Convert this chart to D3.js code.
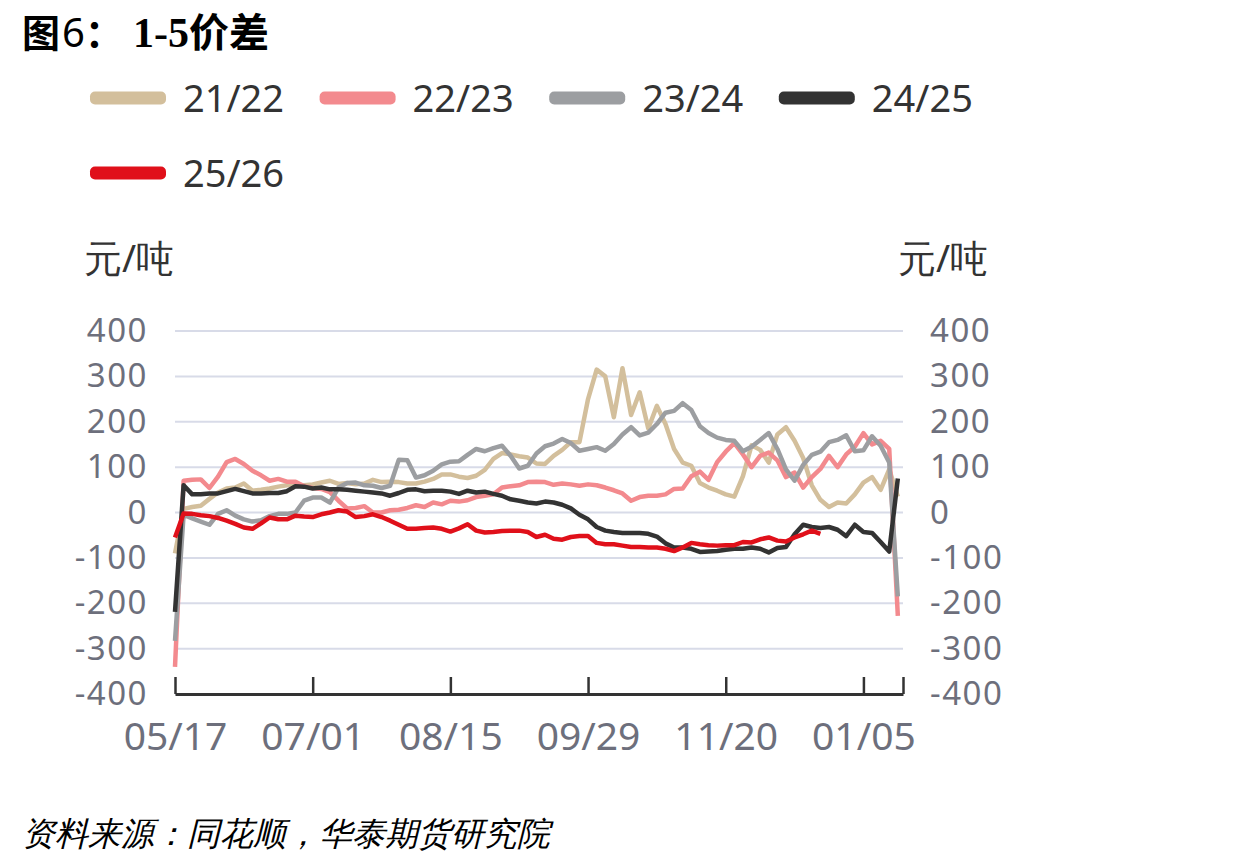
<!DOCTYPE html>
<html>
<head>
<meta charset="utf-8">
<script src="https://cdn.jsdelivr.net/npm/d3@7"></script>
<style>
  body { margin: 0; background: #fff; }
  text { font-family: "Noto Sans", "Open Sans", sans-serif; }
</style>
</head>
<body>
<svg id="chart" width="1240" height="866"></svg>
<script>
// x labels sit on trading-day index (every 2 days per point)
var tickIdx = [0, 16, 32, 48, 64, 80];
var tickLabels = ["05/17", "07/01", "08/15", "09/29", "11/20", "01/05"];
var yTicks = [-400, -300, -200, -100, 0, 100, 200, 300, 400];

var s2122 = [-90, 8, 12, 15, 30, 44, 53, 55, 64, 48, 50, 53, 57, 60, 61, 60, 62, 66, 70, 63,
  65, 62, 64, 72, 67, 68, 67, 64, 64, 68, 74, 84, 84, 79, 76, 81, 94, 118, 131, 128,
  124, 121, 108, 107, 125, 138, 155, 155, 250, 315, 300, 210, 318, 215, 265, 185, 235, 195, 140, 110,
  103, 65, 55, 48, 40, 35, 80, 148, 138, 110, 172, 188, 158, 120, 60, 28, 12, 22, 20, 40,
  66, 78, 50, 95, 35];
var s2223 = [-340, 70, 72, 73, 54, 79, 111, 118, 107, 92, 82, 70, 74, 68, 68, 58, 54, 52, 45, 26,
  9, 10, 14, 0, 0, 5, 6, 10, 16, 12, 22, 18, 26, 24, 27, 34, 37, 40, 55, 58,
  60, 67, 68, 67, 61, 64, 62, 59, 62, 60, 55, 49, 42, 26, 34, 37, 37, 40, 52, 53,
  80, 90, 72, 111, 134, 153, 128, 100, 125, 132, 115, 78, 88, 55, 78, 96, 125, 100, 128, 145,
  175, 150, 158, 140, -228];
var s2324 = [-283, -5, -13, -20, -27, -3, 5, -7, -15, -20, -17, -8, -3, -3, 0, 26, 33, 33, 22, 55,
  65, 66, 60, 59, 54, 59, 116, 115, 77, 82, 92, 106, 112, 113, 127, 140, 135, 142, 147, 125,
  97, 103, 130, 146, 152, 162, 153, 136, 140, 144, 136, 151, 172, 188, 170, 176, 195, 220, 224, 241,
  226, 190, 175, 165, 160, 158, 135, 145, 160, 175, 140, 95, 70, 105, 127, 134, 155, 160, 170, 135,
  137, 168, 147, 110, -185];
var s2425 = [-219, 60, 40, 40, 42, 42, 47, 52, 47, 42, 42, 43, 43, 47, 58, 57, 53, 55, 51, 51,
  50, 48, 46, 44, 42, 37, 43, 50, 51, 47, 48, 48, 46, 41, 48, 44, 46, 41, 37, 29,
  26, 22, 20, 24, 22, 17, 9, -5, -15, -32, -40, -43, -45, -45, -45, -47, -53, -68, -77, -77,
  -80, -87, -86, -85, -82, -80, -80, -77, -80, -88, -78, -76, -48, -27, -32, -34, -32, -38, -52, -27,
  -43, -45, -65, -86, 75];
var s2526 = [-55, -2, -3, -6, -8, -12, -18, -25, -33, -36, -24, -11, -15, -15, -7, -9, -10, -4, 0, 5,
  2, -10, -8, -4, -10, -18, -27, -36, -36, -34, -33, -36, -42, -35, -26, -40, -44, -43, -41, -40,
  -40, -43, -54, -49, -58, -60, -54, -52, -52, -67, -70, -70, -73, -76, -76, -77, -77, -80, -85, -77,
  -67, -70, -72, -73, -72, -72, -65, -66, -59, -55, -62, -64, -55, -48, -40, -47];

var seriesNames = ["21/22", "22/23", "23/24", "24/25", "25/26"];
var seriesColors = ["#d3bf9c", "#f38a8e", "#9c9ea1", "#333333", "#e0101a"];
var seriesData = [s2122, s2223, s2324, s2425, s2526];

var svg = d3.select("#chart");
svg.append("rect").attr("width", 1240).attr("height", 866).attr("fill", "#fff");

var plotL = 175, plotR = 903, plotT = 331, plotB = 694;
var x = d3.scaleLinear().domain([0, 84.6]).range([plotL, plotR]);
var y = d3.scaleLinear().domain([-400, 400]).range([plotB, plotT]);

// title
var title = svg.append("text").attr("x", 22).attr("y", 47)
    .attr("font-size", 38).attr("font-weight", "bold").attr("fill", "#000");
title.append("tspan").attr("font-family", "Noto Sans CJK SC").text("图");
title.append("tspan").attr("font-weight", "normal").attr("font-family", "Noto Sans")
    .attr("font-size", 40).attr("dx", 2).text("6");
title.append("tspan").attr("font-family", "Noto Sans CJK SC").text("：");
title.append("tspan").attr("font-family", "Liberation Serif").attr("font-size", 42)
    .attr("dx", 10).text("1-5");
title.append("tspan").attr("font-family", "Noto Sans CJK SC").attr("font-size", 40).text("价差");

// legend
seriesNames.forEach(function (name, i) {
    var lx = 90 + (i % 4) * 229.6;
    var ly = 98 + Math.floor(i / 4) * 75;
    svg.append("rect").attr("x", lx).attr("y", ly - 6.5)
        .attr("width", 76).attr("height", 13).attr("rx", 5)
        .attr("fill", seriesColors[i]);
    svg.append("text").attr("x", lx + 93).attr("y", ly).attr("dy", "0.36em")
        .attr("font-size", 38).attr("fill", "#333").text(name);
});

// units
svg.append("text").attr("x", 84).attr("y", 272).attr("font-size", 38)
    .attr("font-family", "Noto Sans CJK SC").attr("fill", "#333").text("元/吨");
svg.append("text").attr("x", 898).attr("y", 272).attr("font-size", 38)
    .attr("font-family", "Noto Sans CJK SC").attr("fill", "#333").text("元/吨");

// grid
svg.append("g").selectAll("line.grid").data(yTicks).enter()
    .append("line").attr("class", "grid")
    .attr("x1", plotL).attr("x2", plotR)
    .attr("y1", function (d) { return y(d); })
    .attr("y2", function (d) { return y(d); })
    .attr("stroke", "#d8dbe8").attr("stroke-width", 2);

var fmt = function (d) { return String(d); };
var yLeft = svg.append("g").attr("transform", "translate(" + plotL + ",0)")
    .call(d3.axisLeft(y).tickValues(yTicks).tickFormat(fmt).tickSize(0).tickPadding(27));
var yRight = svg.append("g").attr("transform", "translate(" + plotR + ",0)")
    .call(d3.axisRight(y).tickValues(yTicks).tickFormat(fmt).tickSize(0).tickPadding(27));
[yLeft, yRight].forEach(function (g) {
    g.select(".domain").remove();
    g.selectAll("text").attr("font-size", 33).attr("letter-spacing", 1.5)
        .attr("fill", "#6d6f7c").attr("font-family", "Noto Sans");
});

// lines
var line = d3.line()
    .x(function (d, i) { return x(i); })
    .y(function (d) { return y(d); });

seriesData.forEach(function (vals, i) {
    svg.append("path").datum(vals)
        .attr("d", line)
        .attr("fill", "none")
        .attr("stroke", seriesColors[i])
        .attr("stroke-width", 4.5)
        .attr("stroke-linejoin", "round");
});

// x axis
var xAxis = d3.axisBottom(x)
    .tickValues(tickIdx.concat([84.6]))
    .tickFormat(function (d) {
        var k = tickIdx.indexOf(d);
        return k >= 0 ? tickLabels[k] : "";
    })
    .tickSizeInner(-17).tickSizeOuter(0).tickPadding(28);
var xg = svg.append("g").attr("transform", "translate(0," + plotB + ")").call(xAxis);
xg.select(".domain").attr("stroke", "#333").attr("stroke-width", 3);
xg.selectAll(".tick line").attr("stroke", "#333").attr("stroke-width", 2.5);
xg.selectAll("text").attr("font-size", 39).attr("fill", "#6d6f7c")
    .attr("font-family", "Noto Sans");

// source
svg.append("text").attr("x", 22).attr("y", 845)
    .attr("font-size", 33).attr("font-style", "italic")
    .attr("font-family", "Noto Sans CJK SC").attr("fill", "#000")
    .text("资料来源：同花顺，华泰期货研究院");
</script>
</body>
</html>
